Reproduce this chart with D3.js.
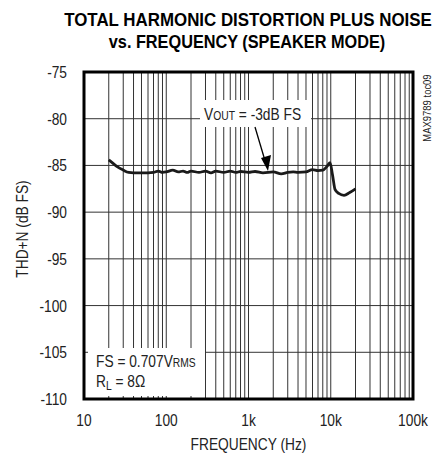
<!DOCTYPE html>
<html>
<head>
<meta charset="utf-8">
<script src="https://cdn.jsdelivr.net/npm/d3@7"></script>
<style>
  body { margin: 0; background: #fff; }
  svg { display: block; }
  text { font-family: "Liberation Sans", Arial, sans-serif; fill: #222; }
</style>
</head>
<body>
<div id="chart"></div>
<script>
// THD+N vs frequency
const freqs = [20, 22, 25, 30, 35, 40, 50, 60, 70, 80, 90, 100, 120, 140, 160, 180, 200, 250, 300, 350,
    400, 500, 600, 700, 800, 1000, 1200, 1500, 2000, 2500, 3000, 3500, 4000, 5000, 6000, 7000, 8000,
    9000, 9800, 10500, 11300, 12500, 14500, 17000, 20000];
const thdn = [-84.4, -84.7, -85.1, -85.5, -85.75, -85.8, -85.8, -85.8, -85.75, -85.6, -85.75, -85.7, -85.5, -85.7,
    -85.6, -85.75, -85.6, -85.75, -85.6, -85.8, -85.6, -85.75, -85.6, -85.75, -85.65, -85.75, -85.65, -85.8,
    -85.7, -85.9, -85.75, -85.7, -85.75, -85.7, -85.45, -85.55, -85.5, -85.1, -84.7, -86.0, -87.6, -88.0,
    -88.2, -87.9, -87.5];

const xTicks = [10, 100, 1000, 10000, 100000];
const xTickLabels = ['10', '100', '1k', '10k', '100k'];
const yTicks = [-75, -80, -85, -90, -95, -100, -105, -110];

const width = 442, height = 457;
const margin = { top: 72, right: 29, bottom: 58, left: 84 };
const NARROW = 0.86; // condensed look for the label font

const svg = d3.select('#chart')
    .append('svg')
    .attr('width', width)
    .attr('height', height);

const x = d3.scaleLog()
    .domain([10, 100000])
    .range([margin.left, width - margin.right]);

const y = d3.scaleLinear()
    .domain([-110, -75])
    .range([height - margin.bottom, margin.top]);

// condensed text placed at (tx, ty)
function narrowText(parent, tx, ty, anchor, size, rot) {
    return parent.append('text')
        .attr('transform', `translate(${tx},${ty})` + (rot ? ` rotate(${rot})` : '') + ` scale(${NARROW},1)`)
        .attr('text-anchor', anchor)
        .attr('font-size', size + 'px');
}

// Minor + major vertical grid (1..9 per decade)
const gridX = [];
for (let d = 10; d < 100000; d *= 10) {
    for (let m = 1; m < 10; m++) gridX.push(d * m);
}
svg.append('g')
    .selectAll('line')
    .data(gridX.filter(v => v > 10))
    .enter()
    .append('line')
    .attr('x1', d => x(d))
    .attr('x2', d => x(d))
    .attr('y1', y(-75))
    .attr('y2', y(-110))
    .attr('stroke', '#333')
    .attr('stroke-width', 1);

// Horizontal grid
svg.append('g')
    .selectAll('line')
    .data(yTicks.filter(v => v > -110 && v < -75))
    .enter()
    .append('line')
    .attr('x1', x(10))
    .attr('x2', x(100000))
    .attr('y1', d => y(d))
    .attr('y2', d => y(d))
    .attr('stroke', '#333')
    .attr('stroke-width', 1);

// Label backgrounds covering grid
svg.append('rect')
    .attr('x', 200).attr('y', 100).attr('width', 111).attr('height', 27)
    .attr('fill', '#fff');
svg.append('rect')
    .attr('x', 88).attr('y', 348).attr('width', 117).attr('height', 48)
    .attr('fill', '#fff');

// Data curve
const line = d3.line()
    .x((d, i) => x(freqs[i]))
    .y(d => y(d))
    .curve(d3.curveMonotoneX);

svg.append('path')
    .datum(thdn)
    .attr('fill', 'none')
    .attr('stroke', '#1a1a1a')
    .attr('stroke-width', 2.8)
    .attr('stroke-linejoin', 'round')
    .attr('d', line);

// Plot frame
svg.append('rect')
    .attr('x', x(10))
    .attr('y', y(-75))
    .attr('width', x(100000) - x(10))
    .attr('height', y(-110) - y(-75))
    .attr('fill', 'none')
    .attr('stroke', '#000')
    .attr('stroke-width', 3);

// Tick labels
yTicks.forEach(v => {
    narrowText(svg, 67, y(v) + 6, 'end', 16).text(v);
});
xTicks.forEach((v, i) => {
    narrowText(svg, x(v), 426, 'middle', 16).text(xTickLabels[i]);
});

// Axis titles
narrowText(svg, x(1000), 450, 'middle', 16).text('FREQUENCY (Hz)');
narrowText(svg, 28, 229, 'middle', 16, -90).text('THD+N (dB FS)');

// Chart title (heavy condensed)
svg.append('text')
    .attr('transform', 'translate(248,26) scale(0.89,1)')
    .attr('text-anchor', 'middle')
    .attr('font-size', '19px').attr('font-weight', 'bold')
    .style('fill', '#000')
    .text('TOTAL HARMONIC DISTORTION PLUS NOISE');
svg.append('text')
    .attr('transform', 'translate(247,48) scale(0.857,1)')
    .attr('text-anchor', 'middle')
    .attr('font-size', '19px').attr('font-weight', 'bold')
    .style('fill', '#000')
    .text('vs. FREQUENCY (SPEAKER MODE)');

// Part number
narrowText(svg, 431, 108, 'middle', 11, -90).text('MAX9789 toc09');

// Annotations
const vout = narrowText(svg, 204, 120, 'start', 16);
vout.append('tspan').text('V');
vout.append('tspan').attr('font-size', '12px').text('OUT');
vout.append('tspan').text(' = -3dB FS');

const fs = narrowText(svg, 96, 367, 'start', 16);
fs.append('tspan').text('FS = 0.707V');
fs.append('tspan').attr('font-size', '12px').text('RMS');

const rl = narrowText(svg, 96, 387, 'start', 16);
rl.append('tspan').text('R');
rl.append('tspan').attr('font-size', '12px').attr('dy', 3).text('L');
rl.append('tspan').attr('dy', -3).text(' = 8Ω');

// Arrow
svg.append('line')
    .attr('x1', 255).attr('y1', 127)
    .attr('x2', 266).attr('y2', 164)
    .attr('stroke', '#000')
    .attr('stroke-width', 1.3);
svg.append('path')
    .attr('d', 'M268,171 L261,158 L271,155 Z')
    .attr('fill', '#000');
</script>
</body>
</html>
